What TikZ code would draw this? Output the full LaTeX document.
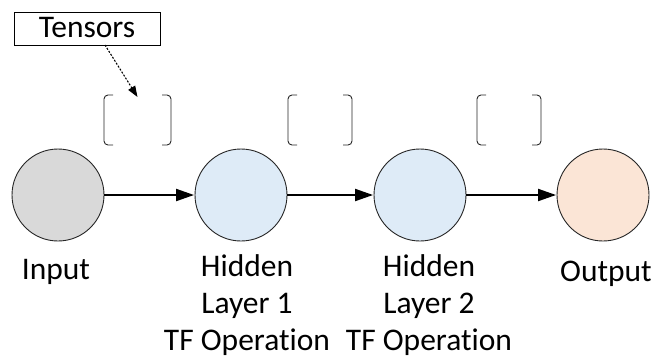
\documentclass[tikz,border=0pt]{standalone}
\usepackage{fontspec}
\setmainfont{Carlito}[Ligatures=NoCommon]
\usetikzlibrary{arrows.meta}
\definecolor{edge}{HTML}{262626}
\definecolor{inputfill}{HTML}{D9D9D9}
\definecolor{hiddenfill}{HTML}{DEEBF7}
\definecolor{outputfill}{HTML}{FBE5D6}
\tikzset{
  unit/.style={circle, draw=edge, line width=0.9pt, minimum size=92pt, inner sep=0pt},
  flow/.style={line width=2pt, -{Triangle[length=18pt,width=12pt]}, shorten >=0.5pt},
  label/.style={font=\fontsize{31.5}{37}\selectfont, align=center, anchor=base, inner sep=0pt},
  bracketline/.style={draw=edge, line width=0.9pt, rounded corners=4pt},
  tagbox/.style={draw=black, line width=0.8pt, minimum width=146pt, minimum height=33pt, inner sep=0pt},
}
\newcommand{\tensorpair}[3]{% left x, right x, name
  \draw[bracketline] (#1+9,95) -- (#1,95) -- (#1,145) -- (#1+9,145);
  \draw[bracketline] (#2-9,95) -- (#2,95) -- (#2,145) -- (#2-9,145);
  \coordinate (#3) at ({(#1+#2)/2},97);
}
\begin{document}
\begin{tikzpicture}[x=1pt,y=-1pt]
  \useasboundingbox (0,0) rectangle (668,360);

  % layer nodes
  \node[unit, fill=inputfill]  (in)  at (58,195)  {};
  \node[unit, fill=hiddenfill] (h1)  at (241,195) {};
  \node[unit, fill=hiddenfill] (h2)  at (420,195) {};
  \node[unit, fill=outputfill] (out) at (603,195) {};

  % forward connections
  \draw[flow] (in)  -- (h1);
  \draw[flow] (h1) -- (h2);
  \draw[flow] (h2) -- (out);

  % tensor brackets between layers
  \tensorpair{104}{171}{t1}
  \tensorpair{288}{352}{t2}
  \tensorpair{477}{541}{t3}

  % callout
  \node[tagbox] (tag) at (87,28.5) {};
  \node[label] (tagtext) at (87,37) {Tensors};
  \coordinate (tagfoot) at (105,45);
  \draw[line width=1.1pt, dash pattern=on 2pt off 1.5pt, -{Triangle[length=11pt,width=8pt]}] (tagfoot) -- (t1);

  % captions (base anchor sits on the last line)
  \node[label] (inlab)  at (56,279)  {Input};
  \node[label] (h1lab)  at (247,350) {Hidden\\Layer 1\\TF Operation};
  \node[label] (h2lab)  at (429,350) {Hidden\\Layer 2\\TF Operation};
  \node[label] (outlab) at (606,281) {Output};
\end{tikzpicture}
\end{document}
